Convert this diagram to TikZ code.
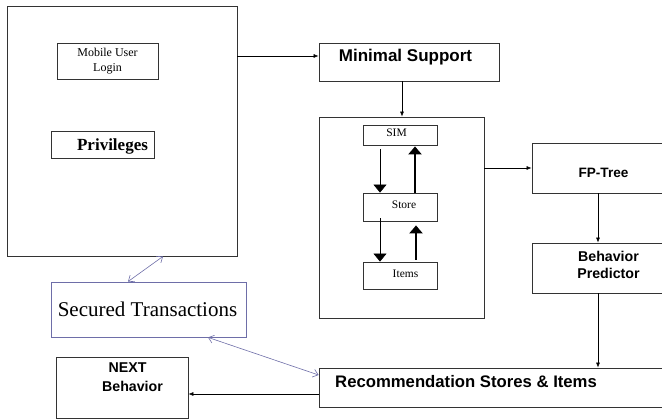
\documentclass[tikz,border=0pt]{standalone}
\usepackage{fontspec}
\setmainfont{Liberation Serif}
\newfontfamily\arialf{Liberation Sans}
\usetikzlibrary{arrows.meta,calc}
\definecolor{edge}{HTML}{333333}
\definecolor{lav}{HTML}{6E6EA8}
\tikzset{
  box/.style={draw=edge, line width=0.8pt, rectangle, inner sep=0pt, fill=white},
  arr/.style={draw=black, line width=0.6pt, -{Latex[length=5pt,width=4pt]}},
  dbl/.style={draw=lav, line width=0.6pt, {Straight Barb[length=5pt,width=8pt]}-{Straight Barb[length=5pt,width=8pt]}},
  thinup/.style={draw=black, line width=0.7pt, -{Triangle[length=8pt,width=13pt]}},
  thickup/.style={draw=black, line width=2pt, -{Triangle[length=8pt,width=13pt]}},
  smalltxt/.style={font=\fontsize{11.5}{12}\selectfont},
}
\begin{document}
\begin{tikzpicture}[x=1pt,y=-1pt]
\useasboundingbox (0,0) rectangle (662,419);
% left block
\node[box, minimum width=230pt, minimum height=250pt] (big) at (122,131) {};
\node[box, minimum width=101pt, minimum height=36pt, align=center, font=\fontsize{12}{15}\selectfont] (login) at (107.5,61) {Mobile User\\Login};
\node[box, minimum width=103pt, minimum height=27pt] (priv) at (102.5,144.5) {};
\node[font=\fontsize{17}{19}\selectfont\bfseries] (privt) at (112.5,146) {Privileges};
% minimal support
\node[box, minimum width=180pt, minimum height=38pt] (minsup) at (409,62) {};
\node[font=\arialf\bfseries\fontsize{17}{19}\selectfont] (minsupt) at (405.5,57.5) {Minimal Support};
% container
\node[box, minimum width=165pt, minimum height=201pt] (cont) at (401.5,217.5) {};
\node[box, minimum width=74pt, minimum height=20pt] (sim) at (400,135) {};
\node[smalltxt] (simt) at (396.5,133) {SIM};
\node[box, minimum width=74pt, minimum height=28pt] (store) at (400,207) {};
\node[smalltxt] (storet) at (404,204.5) {Store};
\node[box, minimum width=74pt, minimum height=27pt] (items) at (400,275.5) {};
\node[smalltxt] (itemst) at (405.5,273.5) {Items};
% right column
\node[box, minimum width=168pt, minimum height=50pt] (fp) at (616,168) {};
\node[font=\arialf\bfseries\fontsize{13.6}{16}\selectfont] (fpt) at (603.5,173) {FP-Tree};
\node[box, minimum width=168pt, minimum height=50pt] (bp) at (616,268) {};
\node[font=\arialf\bfseries\fontsize{14.2}{17}\selectfont, align=center] (bpt) at (608.5,264.5) {Behavior\\Predictor};
\node[box, minimum width=381pt, minimum height=39pt] (rec) at (509.5,387.5) {};
\node[font=\arialf\bfseries\fontsize{16.7}{19}\selectfont, anchor=west, inner sep=0pt] (rect) at (335,382) {Recommendation Stores \& Items};
% secured
\node[box, draw=lav, minimum width=195pt, minimum height=55pt] (sec) at (148.5,309.5) {};
\node[font=\fontsize{21}{23}\selectfont] (sect) at (147.5,309) {Secured Transactions};
% next
\node[box, minimum width=132pt, minimum height=61pt] (next) at (122,387.5) {};
\node[font=\arialf\bfseries\fontsize{14.2}{19}\selectfont, align=center] (nextt) at (132.5,377.5) {\hspace*{-10pt}NEXT\\Behavior};
% connectors
\draw[arr] (big.east |- 0,56) -- (minsup.west |- 0,56);
\draw[arr] (minsup.south -| 402,0) -- (cont.north -| 402,0);
\draw[arr] (cont.east |- 0,168) -- (fp.west |- 0,168);
\draw[arr] (fp.south -| 598,0) -- (bp.north -| 598,0);
\draw[arr] (bp.south -| 598,0) -- (rec.north -| 598,0);
\draw[arr] (rec.west |- 0,394) -- (next.east |- 0,394);
\draw[dbl] (big.south -| 163,0) -- (sec.north -| 128,0);
\draw[dbl] (sec.south -| 208,0) -- (rec.west |- 0,375);
% inner arrows
\draw[thinup] ($(sim.south -| 380,0)+(0,4)$) -- (store.north -| 380,0);
\draw[thickup] (store.north -| 415,0) -- ($(sim.south -| 415,0)+(0,1)$);
\draw[thinup] ($(store.south -| 380,0)+(0,-3)$) -- (items.north -| 380,0);
\draw[thickup] ($(items.north -| 416,0)+(0,-2)$) -- ($(store.south -| 416,0)+(0,4)$);
\end{tikzpicture}
\end{document}
